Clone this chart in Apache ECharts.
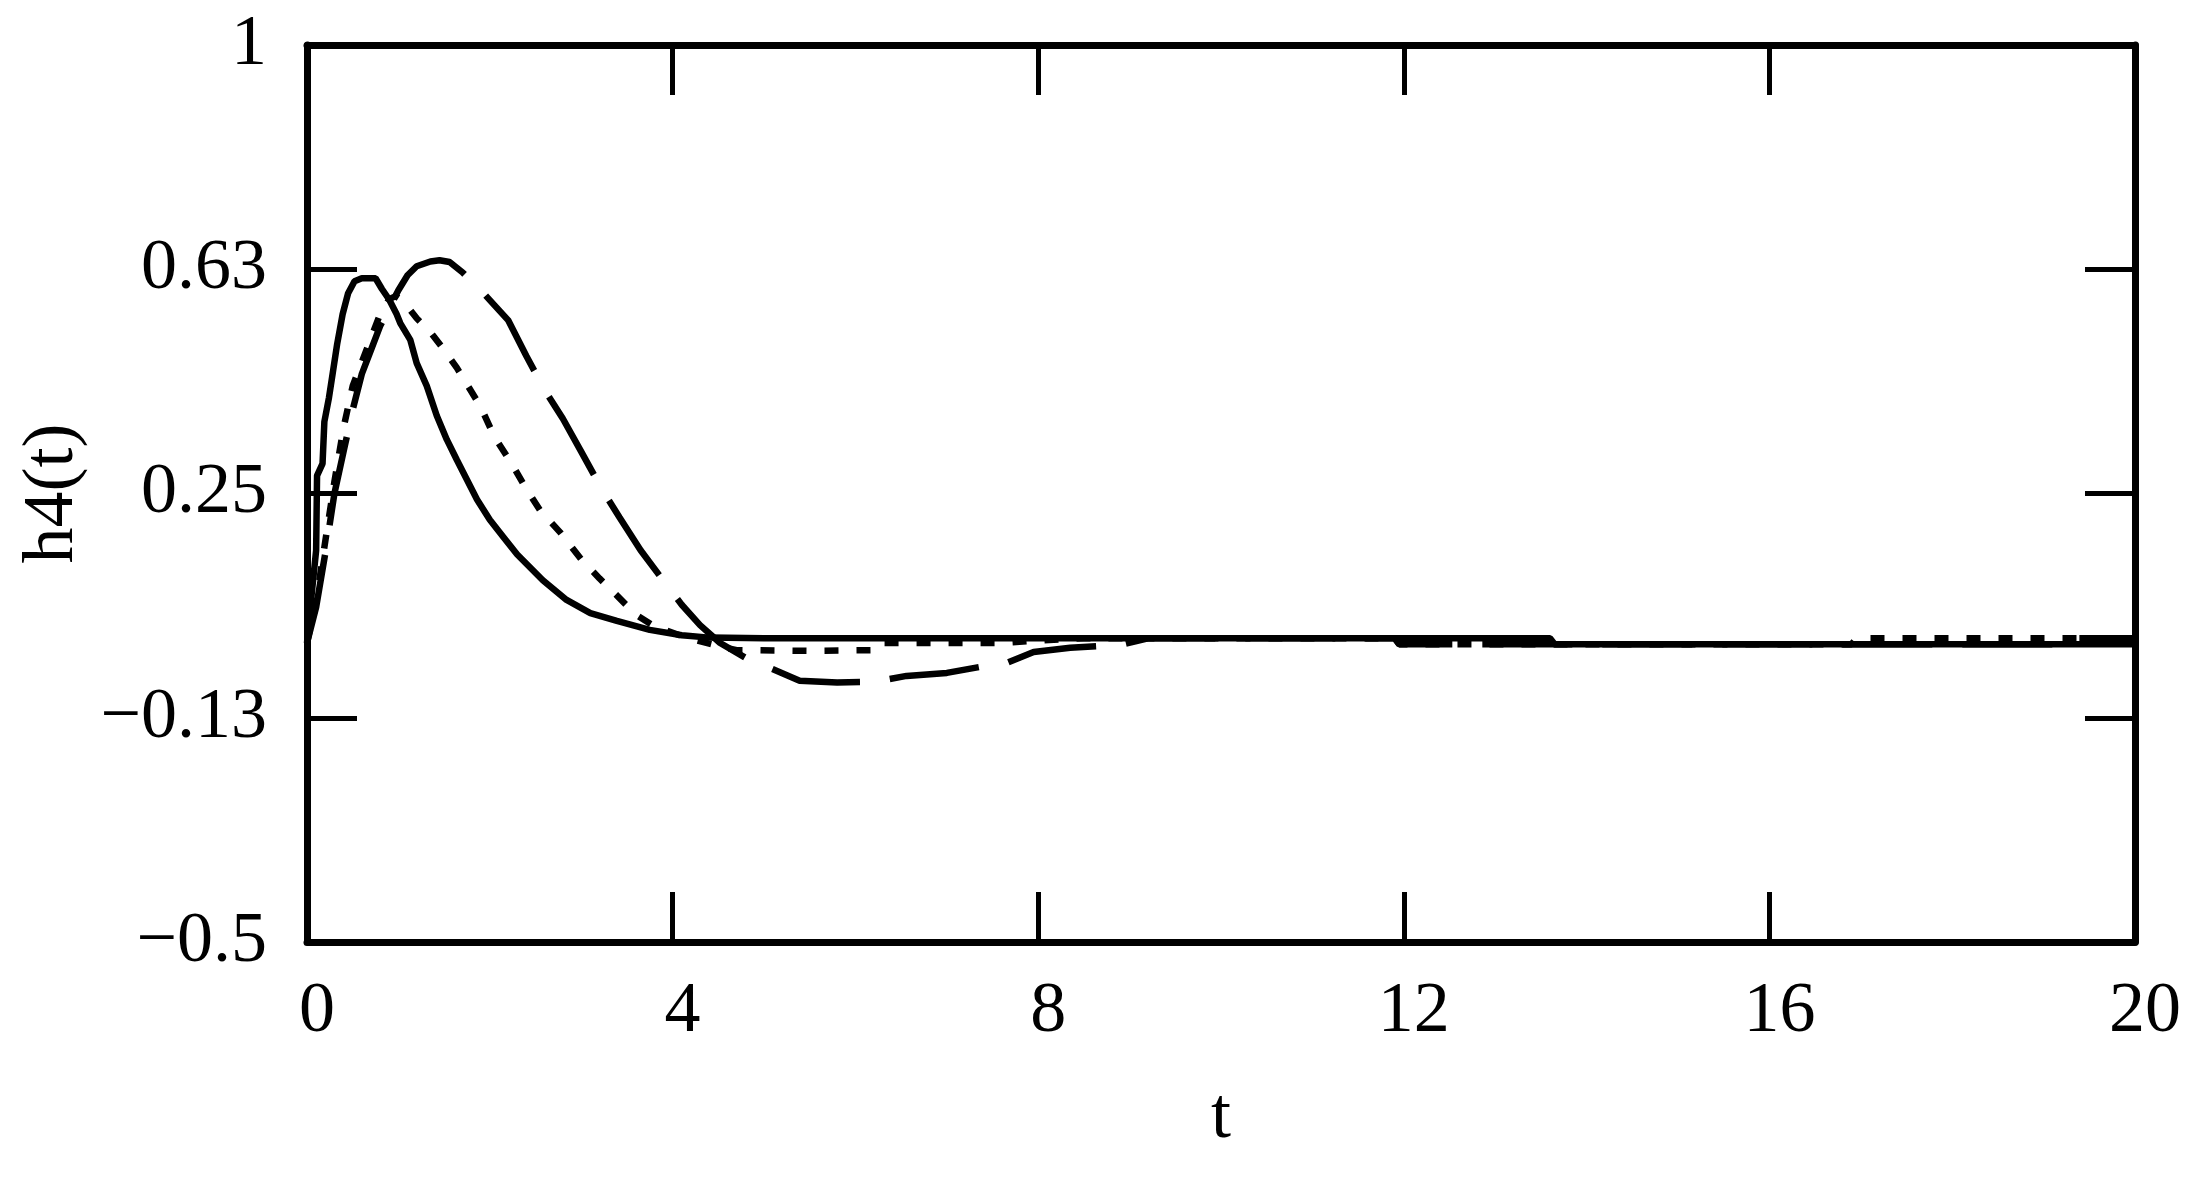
<!DOCTYPE html>
<html>
<head>
<meta charset="utf-8">
<script src="https://cdn.jsdelivr.net/npm/echarts@6/dist/echarts.min.js"></script>
<style>
html,body{margin:0;padding:0;background:#fff;}
#main{width:2205px;height:1177px;}
</style>
</head>
<body>
<div id="main"></div>
<script>
// axis ticks
var tTicks=[0,4,8,12,16,20];
var hTicks=[-0.5,-0.125,0.25,0.625,1];
var hTickLabels=["\u22120.5","\u22120.13","0.25","0.63","1"];

// solid curve
var tA=[0,0.05,0.1,0.11,0.17,0.19,0.24,0.28,0.33,0.39,0.45,0.52,0.6,0.75,0.82,0.9,0.98,1.02,1.13,1.2,1.31,1.42,1.53,1.64,1.75,1.86,2.0,2.15,2.3,2.58,2.84,3.1,3.39,3.75,4.1,4.4,5.0,13.6,13.65,20];
var hA=[0,0.08,0.155,0.28,0.3,0.37,0.41,0.45,0.5,0.55,0.585,0.605,0.61,0.61,0.592,0.574,0.55,0.535,0.507,0.468,0.43,0.38,0.34,0.306,0.273,0.24,0.206,0.177,0.148,0.105,0.072,0.05,0.037,0.022,0.013,0.009,0.008,0.008,-0.002,-0.002];

// dotted curve
var tB=[0,0.1,0.2,0.27,0.3,0.4,0.5,0.6,0.7,0.8,0.9,0.97,1.05,1.2,1.35,1.5,1.64,1.76,1.9,2.05,2.24,2.39,2.55,2.77,3.0,3.2,3.4,3.6,3.8,4.17,4.5,4.7,5.5,6.25,6.3,7.6,8.0,8.5,11.9,11.95,16.9,16.95,20];
var hB=[0,0.07,0.17,0.24,0.27,0.36,0.43,0.47,0.51,0.55,0.575,0.58,0.572,0.543,0.52,0.49,0.46,0.43,0.395,0.345,0.3,0.26,0.222,0.185,0.14,0.108,0.078,0.047,0.028,0.008,-0.005,-0.012,-0.013,-0.012,0.0,0.0,0.004,0.008,0.008,-0.002,-0.002,0.008,0.008];

// long dash curve
var tC=[0,0.1,0.2,0.3,0.4,0.5,0.6,0.7,0.8,0.9,1.0,1.1,1.2,1.35,1.45,1.56,1.7,1.93,2.05,2.2,2.4,2.6,2.8,3.0,3.23,3.42,3.65,3.92,4.1,4.3,4.52,4.8,5.07,5.39,5.8,6.2,6.56,7.0,7.36,7.66,7.95,8.35,8.9,9.2,11.9,11.95,19.2,19.25,20];
var hC=[0,0.06,0.15,0.25,0.32,0.39,0.45,0.49,0.53,0.56,0.59,0.615,0.63,0.638,0.64,0.637,0.62,0.585,0.565,0.54,0.48,0.423,0.375,0.32,0.256,0.21,0.155,0.1,0.064,0.03,0.0,-0.025,-0.042,-0.063,-0.066,-0.065,-0.055,-0.05,-0.04,-0.033,-0.015,-0.008,-0.003,0.008,0.008,-0.002,-0.002,0.008,0.008];

var font="'Liberation Serif','Times New Roman',serif";
// the y scale runs from 0 so that ticks start at min; values are shifted by -hMin
var hMin=hTicks[0];
var hStep=hTicks[1]-hTicks[0];
var hMax=hTicks[hTicks.length-1];
var tStep=tTicks[1]-tTicks[0];

var toPairs=function(ts,hs){
  var out=[];
  for(var i=0;i<ts.length;i++){ out.push([ts[i],hs[i]-hMin]); }
  return out;
};

var frameLine={show:true,onZero:false,lineStyle:{color:'#000',width:7}};
var frameTick={show:true,inside:true,length:50,lineStyle:{color:'#000',width:5}};

var xBase=function(pos,labels){
  return {
    type:'value',position:pos,min:tTicks[0],max:tTicks[tTicks.length-1],interval:tStep,
    axisLine:frameLine,axisTick:frameTick,splitLine:{show:false},
    axisLabel:{show:labels,margin:34,color:'#000',fontFamily:font,fontSize:72,padding:[0,0,0,20],
      showMinLabel:true,showMaxLabel:true}
  };
};
var yBase=function(pos,labels){
  return {
    type:'value',position:pos,min:0,max:hMax-hMin,interval:hStep,
    axisLine:frameLine,axisTick:frameTick,splitLine:{show:false},
    axisLabel:{show:labels,margin:40,color:'#000',fontFamily:font,fontSize:72,padding:[24,0,0,0],
      showMinLabel:true,showMaxLabel:true,
      formatter:function(v){ return hTickLabels[Math.round(v/hStep)]; }}
  };
};

var xBottom=xBase('bottom',true);
xBottom.name='t';
xBottom.nameLocation='middle';
xBottom.nameGap=140;
xBottom.nameTextStyle={color:'#000',fontFamily:font,fontSize:72};
var yLeft=yBase('left',true);
yLeft.name='h4(t)';
yLeft.nameLocation='middle';
yLeft.nameRotate=90;
yLeft.nameGap=215;
yLeft.nameTextStyle={color:'#000',fontFamily:font,fontSize:72};

var lineSeries=function(name,ts,hs,type){
  return {
    name:name,type:'line',xAxisIndex:0,yAxisIndex:0,
    symbol:'none',showSymbol:false,smooth:false,
    lineStyle:{color:'#000',width:6.5,type:type,cap:'butt'},
    data:toPairs(ts,hs)
  };
};

var myChart=echarts.init(document.getElementById('main'),null,{renderer:'canvas'});
myChart.setOption({
  animation:false,
  backgroundColor:'#fff',
  grid:{left:307,right:70,top:45,bottom:235,containLabel:false},
  xAxis:[xBottom,xBase('top',false)],
  yAxis:[yLeft,yBase('right',false)],
  series:[
    lineSeries('A',tA,hA,'solid'),
    lineSeries('B',tB,hB,[14,18]),
    lineSeries('C',tC,hC,[90,30])
  ]
});
</script>
</body>
</html>
